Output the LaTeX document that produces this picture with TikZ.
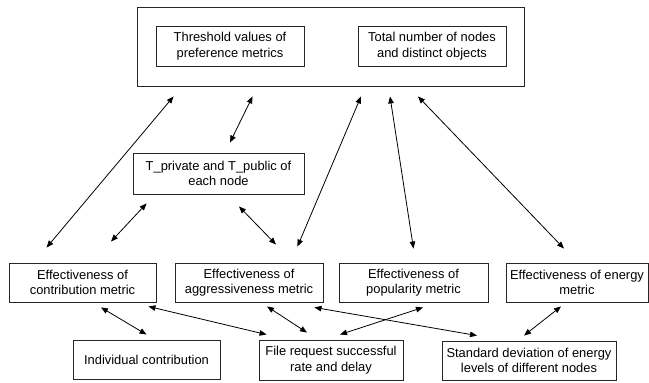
\documentclass[tikz,border=0pt]{standalone}
\usepackage{fontspec}
\setmainfont{Liberation Sans}
\usetikzlibrary{arrows.meta,calc}
\begin{document}
\begin{tikzpicture}[x=1pt,y=-1pt,
  box/.style={draw=black!85,line width=0.9pt,align=center,inner sep=0pt,
    font=\fontsize{12.9}{15.5}\selectfont},
  link/.style={line width=0.8pt,{Triangle[length=7pt,width=5.5pt]}-{Triangle[length=7pt,width=5.5pt]}}]
\useasboundingbox (0,0) rectangle (649,383);
\node[box,minimum width=387pt,minimum height=79pt] (outer) at (330.5,46.5) {};
\node[box,minimum width=148pt,minimum height=40pt] (thr) at (230,46) {Threshold values of\\preference metrics};
\node[box,minimum width=148pt,minimum height=40pt] (tot) at (432,46) {Total number of nodes\\and distinct objects};
\node[box,minimum width=171pt,minimum height=41pt] (tp) at (218.5,173.5) {T\_private and T\_public of\\each node};
\node[box,minimum width=147pt,minimum height=39pt] (con) at (82.5,282.5) {Effectiveness of\\contribution metric};
\node[box,minimum width=148pt,minimum height=39pt] (agg) at (249,282.5) {Effectiveness of\\aggressiveness metric};
\node[box,minimum width=149pt,minimum height=39pt] (pop) at (413.5,282.5) {Effectiveness of\\popularity metric};
\node[box,minimum width=142pt,minimum height=39pt] (ene) at (577,282.5) {Effectiveness of energy\\metric};
\node[box,minimum width=147pt,minimum height=39pt] (ind) at (146.5,359.5) {Individual contribution};
\node[box,minimum width=144pt,minimum height=40pt] (fil) at (331,360) {File request successful\\rate and delay};
\node[box,minimum width=174pt,minimum height=39pt] (std) at (529,360.5) {Standard deviation of energy\\levels of different nodes};
% upper arrows
\draw[link] ([xshift=37pt,yshift=-10pt]outer.south west) -- ([xshift=38pt,yshift=15pt]con.north west);
\draw[link] ([xshift=116pt,yshift=-10pt]outer.south west) -- ([xshift=11.5pt,yshift=10pt]tp.north);
\draw[link] ([xshift=14pt,yshift=-9pt]tp.south west) -- ([xshift=28.5pt,yshift=21pt]con.north);
\draw[link] ([xshift=20.5pt,yshift=-12pt]tp.south) -- ([xshift=27pt,yshift=18pt]agg.north);
\draw[link] ([xshift=30.5pt,yshift=-10pt]outer.south) -- ([xshift=-26pt,yshift=16pt]agg.north east);
\draw[link] ([xshift=59.5pt,yshift=-10pt]outer.south) -- ([yshift=14pt]pop.north);
\draw[link] ([xshift=87.5pt,yshift=-10pt]outer.south) -- ([xshift=-13pt,yshift=14pt]ene.north);
% lower arrows
\draw[link] ([xshift=18.5pt,yshift=-5pt]con.south) -- ([yshift=5pt]ind.north);
\draw[link] ([xshift=-8pt,yshift=-4pt]con.south east) -- ([xshift=8pt,yshift=5pt]fil.north west);
\draw[link] ([xshift=18pt,yshift=-4pt]agg.south) -- ([xshift=-24pt,yshift=7pt]fil.north);
\draw[link] ([xshift=-9pt,yshift=-5pt]agg.south east) -- ([xshift=-52pt,yshift=5pt]std.north);
\draw[link] ([xshift=9.5pt,yshift=-5pt]pop.south) -- ([xshift=9pt,yshift=5pt]fil.north);
\draw[link] ([xshift=-16pt,yshift=-4pt]ene.south) -- ([xshift=-5pt,yshift=5pt]std.north);
\end{tikzpicture}
\end{document}
